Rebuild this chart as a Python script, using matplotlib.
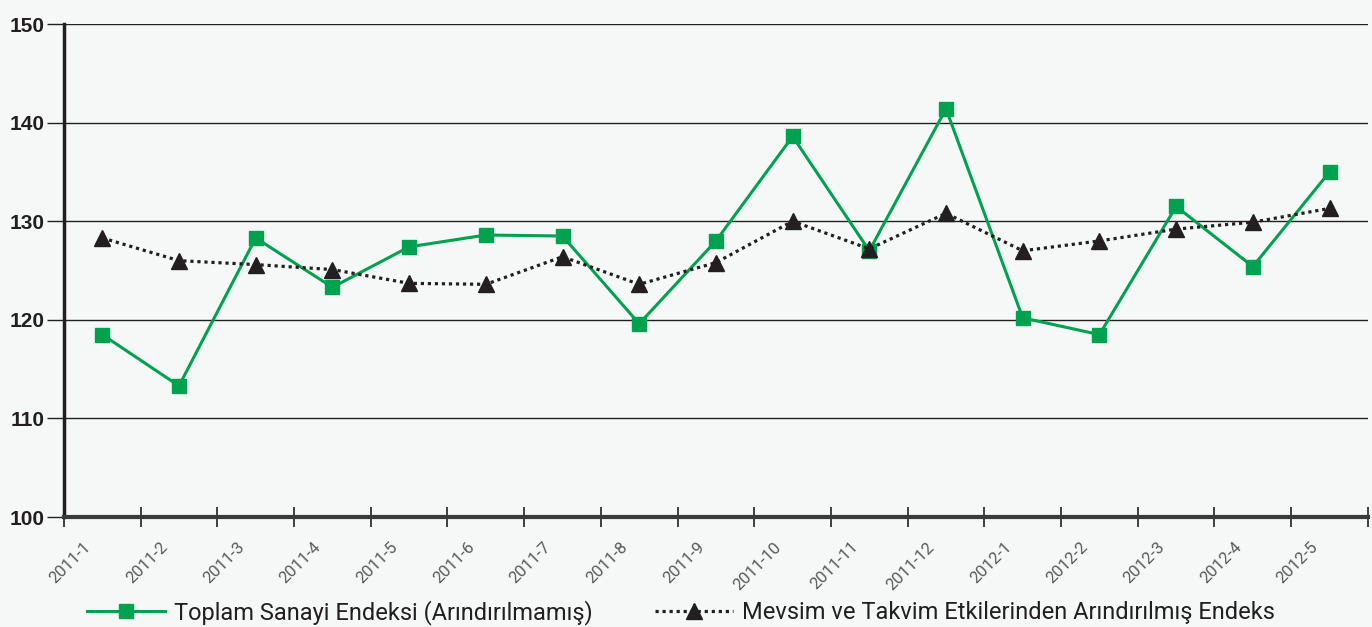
import matplotlib
matplotlib.use("Agg")
import matplotlib.pyplot as plt

categories = ["2011-1", "2011-2", "2011-3", "2011-4", "2011-5", "2011-6", "2011-7", "2011-8",
              "2011-9", "2011-10", "2011-11", "2011-12", "2012-1", "2012-2", "2012-3", "2012-4", "2012-5"]
toplam = [118.5, 113.3, 128.3, 123.3, 127.4, 128.6, 128.5, 119.6, 128.0, 138.6, 127.0, 141.4,
          120.2, 118.5, 131.5, 125.4, 135.0]
mevsim = [128.3, 126.0, 125.6, 125.1, 123.7, 123.6, 126.4, 123.6, 125.8, 130.0, 127.2, 130.8,
          127.0, 128.0, 129.2, 129.9, 131.3]
yticks = [100, 110, 120, 130, 140, 150]

plt.rcParams['font.family'] = ['Roboto', 'DejaVu Sans']

bg = "#F6F8F8"
green = "#00A24F"
dark = "#231F20"

fig = plt.figure(figsize=(13.72, 6.27), dpi=100, facecolor=bg)
ax = fig.add_axes([0.0466, 0.1754, 0.9504, 0.7863], facecolor=bg)

x = list(range(len(categories)))
ax.plot(x, toplam, color=green, lw=2.2, marker='s', ms=10.5, mec=green, mfc=green,
        label="Toplam Sanayi Endeksi (Arındırılmamış)", zorder=3)
ax.plot(x, mevsim, color=dark, lw=2.3, ls=(0, (1, 1.2)), marker='^', ms=11, mec=dark, mfc=dark,
        label="Mevsim ve Takvim Etkilerinden Arındırılmış Endeks", zorder=4)

ax.set_xlim(-0.5, len(categories) - 0.5)
ax.set_ylim(100, 150)
ax.set_yticks(yticks)
ax.set_yticklabels([str(v) for v in yticks], fontsize=15, fontweight='bold', color=dark,
                   family=['Liberation Sans', 'DejaVu Sans'])
ax.yaxis.grid(True, color=dark, lw=1)
ax.set_axisbelow(True)

ax.set_xticks([i - 0.5 for i in range(len(categories) + 1)])
ax.set_xticklabels([])
ax.set_xticks([i - 0.25 for i in x], minor=True)
ax.set_xticklabels(categories, minor=True, rotation=45, ha='right', rotation_mode='anchor',
                   fontsize=12, color="#5a5a5a")
ax.tick_params(axis='x', which='minor', length=0, pad=16)
ax.tick_params(axis='x', which='major', direction='inout', length=14, width=1.2, color=dark)
ax.tick_params(axis='y', which='major', length=12, width=1, color=dark, pad=2)

for s in ['top', 'right']:
    ax.spines[s].set_visible(False)
ax.spines['left'].set_linewidth(2.5)
ax.spines['left'].set_color(dark)
ax.spines['bottom'].set_linewidth(3)
ax.spines['bottom'].set_color("#3a3a3a")

leg = fig.legend(loc='lower left', bbox_to_anchor=(0.048, -0.03), ncol=2, frameon=False,
                 fontsize=17, handlelength=3.3, columnspacing=2.6, handletextpad=0.4)
for t in leg.get_texts():
    t.set_color(dark)

fig.savefig("out.png", dpi=100, facecolor=bg)
